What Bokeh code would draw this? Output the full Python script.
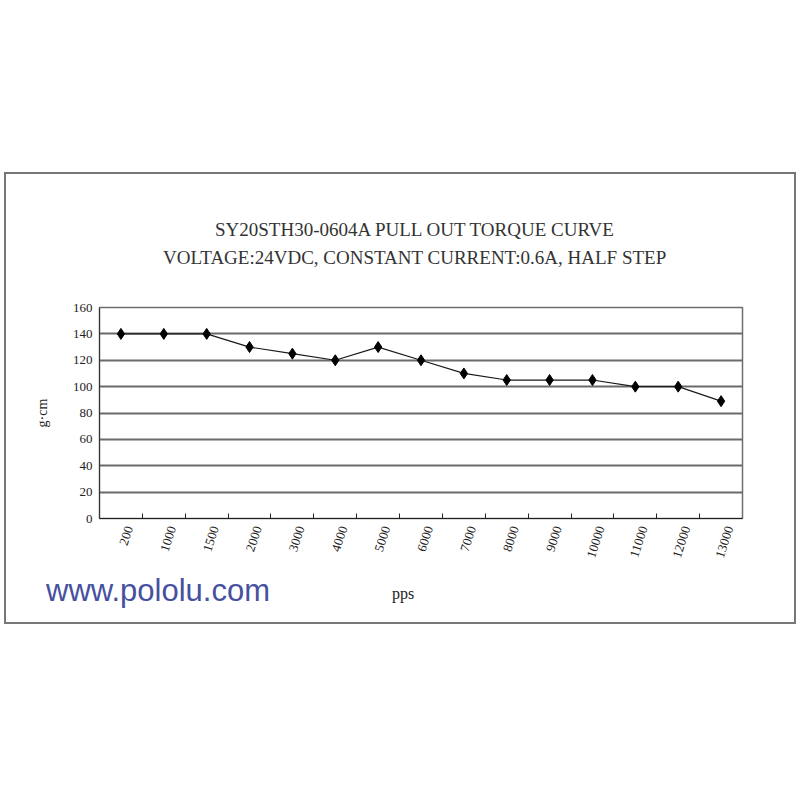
import math
from bokeh.plotting import figure
from bokeh.models import Range1d, FixedTicker, Spacer, Div
from bokeh.layouts import column, row
from bokeh.embed import file_html
from bokeh.resources import INLINE

# ---- data ----
speeds = ["200", "1000", "1500", "2000", "3000", "4000", "5000", "6000",
          "7000", "8000", "9000", "10000", "11000", "12000", "13000"]
torque = [140, 140, 140, 130, 125, 120, 130, 120, 110, 105, 105, 105, 100, 100, 89]
y_ticks = [0, 20, 40, 60, 80, 100, 120, 140, 160]
title_1 = "SY20STH30-0604A PULL OUT TORQUE CURVE"
title_2 = "VOLTAGE:24VDC, CONSTANT CURRENT:0.6A, HALF STEP"
x_title = "pps"
y_title = "g·cm"
site = "www.pololu.com"

SERIF = "Liberation Serif"
TXT = "#222222"

n = len(speeds)
xs = list(range(n))

p = figure(width=788, height=296, output_backend="svg", toolbar_location=None,
           x_range=Range1d(-0.5, n - 0.5), y_range=Range1d(0, 160),
           title=None,
           min_border_left=93, min_border_right=52,
           min_border_top=33, min_border_bottom=52)
p.background_fill_color = "white"
p.border_fill_color = "white"
p.outline_line_color = "#6e6e6e"
p.outline_line_width = 1.5

# line + markers
p.line(xs, torque, line_color="#1a1a1a", line_width=1.2)
p.scatter(xs, torque, marker="diamond", size=11, fill_color="black", line_color="black")

# y axis
p.yaxis.ticker = FixedTicker(ticks=y_ticks)
p.yaxis.major_tick_out = 0
p.yaxis.major_tick_in = 0
p.yaxis.minor_tick_out = 0
p.yaxis.minor_tick_in = 0
p.yaxis.major_label_standoff = 7
p.yaxis.major_label_text_font = SERIF
p.yaxis.major_label_text_font_size = "13px"
p.yaxis.major_label_text_color = TXT
p.yaxis.axis_line_color = "#333333"
p.yaxis.axis_label = y_title
p.yaxis.axis_label_text_font = SERIF
p.yaxis.axis_label_text_font_size = "14px"
p.yaxis.axis_label_text_font_style = "normal"
p.yaxis.axis_label_text_color = TXT
p.yaxis.axis_label_standoff = 20

p.ygrid.ticker = FixedTicker(ticks=y_ticks[1:-1])
p.ygrid.grid_line_color = "#6a6a6a"
p.ygrid.grid_line_width = 2
p.xgrid.grid_line_color = None

# x axis: labels near category centers, small inward ticks at category boundaries
label_pos = [i + 0.2 for i in xs]
p.xaxis.ticker = FixedTicker(ticks=label_pos, minor_ticks=[i + 0.5 for i in xs[:-1]])
p.xaxis.major_label_overrides = {pos: s for pos, s in zip(label_pos, speeds)}
p.xaxis.major_tick_in = 0
p.xaxis.major_tick_out = 0
p.xaxis.minor_tick_in = 5
p.xaxis.minor_tick_out = 0
p.xaxis.minor_tick_line_color = "#222222"
p.xaxis.axis_line_color = "#222222"
p.xaxis.major_label_orientation = math.radians(72)
p.xaxis.major_label_standoff = 8
p.xaxis.major_label_text_font = SERIF
p.xaxis.major_label_text_font_size = "13px"
p.xaxis.major_label_text_color = TXT

# top strip: the two title lines
title_style = ("position:absolute;font-family:\"Liberation Serif\";font-size:19px;"
               "line-height:19px;color:#333333;white-space:nowrap;")
top_html = (
    "<div style='position:relative;width:788px;height:100px;'>"
    f"<span style='{title_style}left:209px;top:46px;'>{title_1}</span>"
    f"<span style='{title_style}left:157px;top:74px;'>{title_2}</span>"
    "</div>"
)
top = Div(text=top_html, width=788, height=100, margin=0,
          styles={"background-color": "white"})

# bottom strip: site address and x-axis title
bottom_html = (
    "<div style='position:relative;width:788px;height:52px;'>"
    f"<span style='position:absolute;left:40px;top:5px;font-family:\"Liberation Sans\";"
    f"font-size:31px;line-height:31px;color:#46509f;white-space:nowrap;'>{site}</span>"
    f"<span style='position:absolute;left:386px;top:16px;font-family:\"Liberation Serif\";"
    f"font-size:16px;line-height:16px;color:{TXT};white-space:nowrap;'>{x_title}</span>"
    "</div>"
)
bottom = Div(text=bottom_html, width=788, height=52, margin=0,
             styles={"background-color": "white"})

box = column(top, p, bottom, spacing=0, styles={"border": "2px solid #777777"})
layout = column(Spacer(height=172, width=10), row(Spacer(width=4, height=10), box, spacing=0), spacing=0)
open("out.html", "w").write(file_html(layout, INLINE))
